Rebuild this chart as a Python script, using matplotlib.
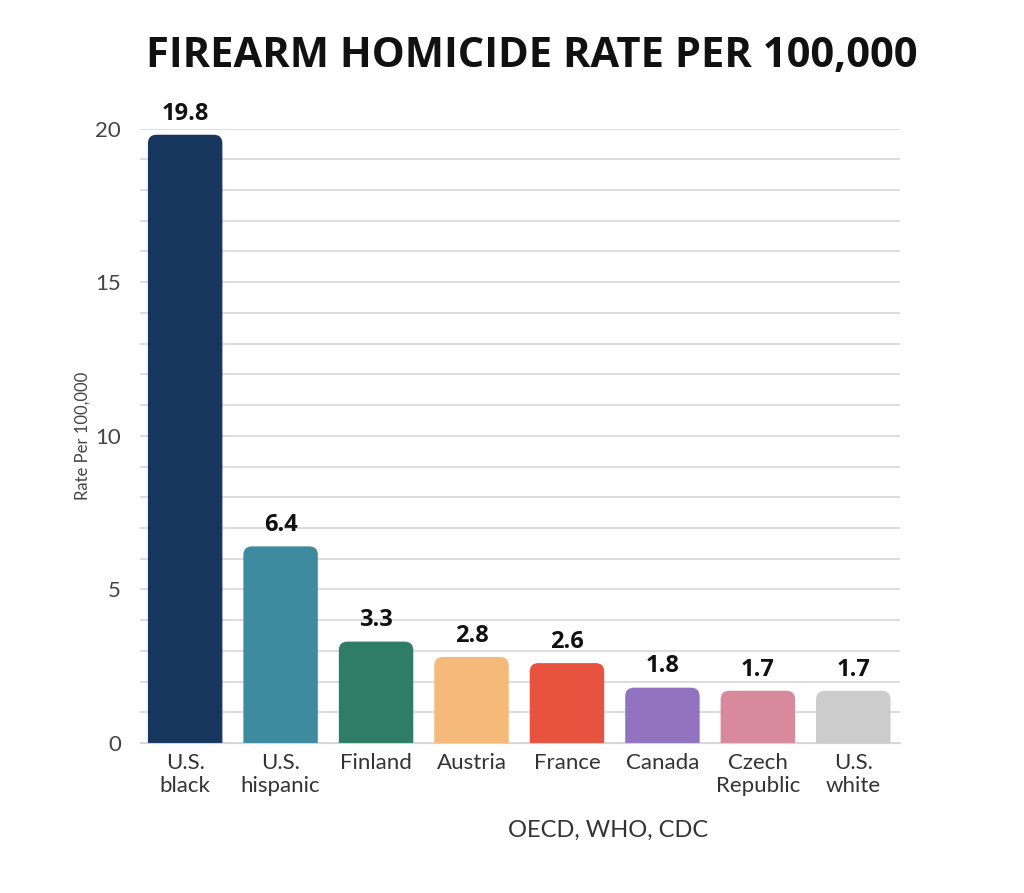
import matplotlib.pyplot as plt
from matplotlib.patches import FancyBboxPatch

plt.rcParams['font.family'] = ['Lato', 'DejaVu Sans']

groups = ["U.S.\nblack", "U.S.\nhispanic", "Finland", "Austria", "France",
          "Canada", "Czech\nRepublic", "U.S.\nwhite"]
rates = [19.8, 6.4, 3.3, 2.8, 2.6, 1.8, 1.7, 1.7]
colors = ["#17375e", "#3e8a9e", "#2f7d64", "#f5b97a", "#e8533f",
          "#9273c0", "#d88a9c", "#cccccc"]
yticks = [0, 5, 10, 15, 20]

fig = plt.figure(figsize=(10.24, 8.93), dpi=100)
ax = fig.add_axes([0.137, 0.168, 0.742, 0.688])

x = list(range(len(groups)))
bars = ax.bar(x, rates, width=0.78, color=colors, zorder=2)

# swap plain bars for rounded ones (bottom pushed below 0 so it's clipped square)
for b, c in zip(bars, colors):
    bx, by = b.get_x(), b.get_y()
    bw, bh = b.get_width(), b.get_height()
    b.set_visible(False)
    rp = FancyBboxPatch((bx, by - 0.5), bw, bh + 0.5,
                        boxstyle="round,pad=0,rounding_size=0.09",
                        mutation_aspect=3.1, facecolor=c, edgecolor="none",
                        zorder=2)
    ax.add_patch(rp)

for xi, r in zip(x, rates):
    ax.text(xi, r + 0.3, f"{r}", ha="center", va="bottom", fontsize=17,
            fontweight="bold", color="#111111", clip_on=False,
            family=["Open Sans", "DejaVu Sans"])

ax.set_xlim(-0.47, 7.49)
ax.set_ylim(0, 20)
ax.set_yticks(yticks)
ax.set_yticks(range(21), minor=True)
ax.grid(axis="y", which="both", color="#dadada", linewidth=1.3, zorder=0)
ax.set_axisbelow(True)
ax.set_xticks(x)
ax.set_xticklabels(groups, fontsize=16, color="#333333", linespacing=1.2)
ax.tick_params(axis="y", labelsize=16, labelcolor="#444444", length=0, pad=14)
ax.tick_params(axis="y", which="minor", length=0)
ax.tick_params(axis="x", length=0, pad=7)
for s in ["top", "right", "left"]:
    ax.spines[s].set_visible(False)
ax.spines["bottom"].set_color("#d5d5d5")
ax.set_ylabel("Rate Per 100,000", fontsize=12, color="#444444", labelpad=3)

fig.text(0.519, 0.937, "FIREARM HOMICIDE RATE PER 100,000", ha="center",
         va="center", fontsize=30, fontweight="bold", color="#111111",
         family=["Open Sans", "DejaVu Sans"])
fig.text(0.594, 0.07, "OECD, WHO, CDC", ha="center", va="center",
         fontsize=17, color="#333333")

fig.savefig("out.png", dpi=100, facecolor="white")
